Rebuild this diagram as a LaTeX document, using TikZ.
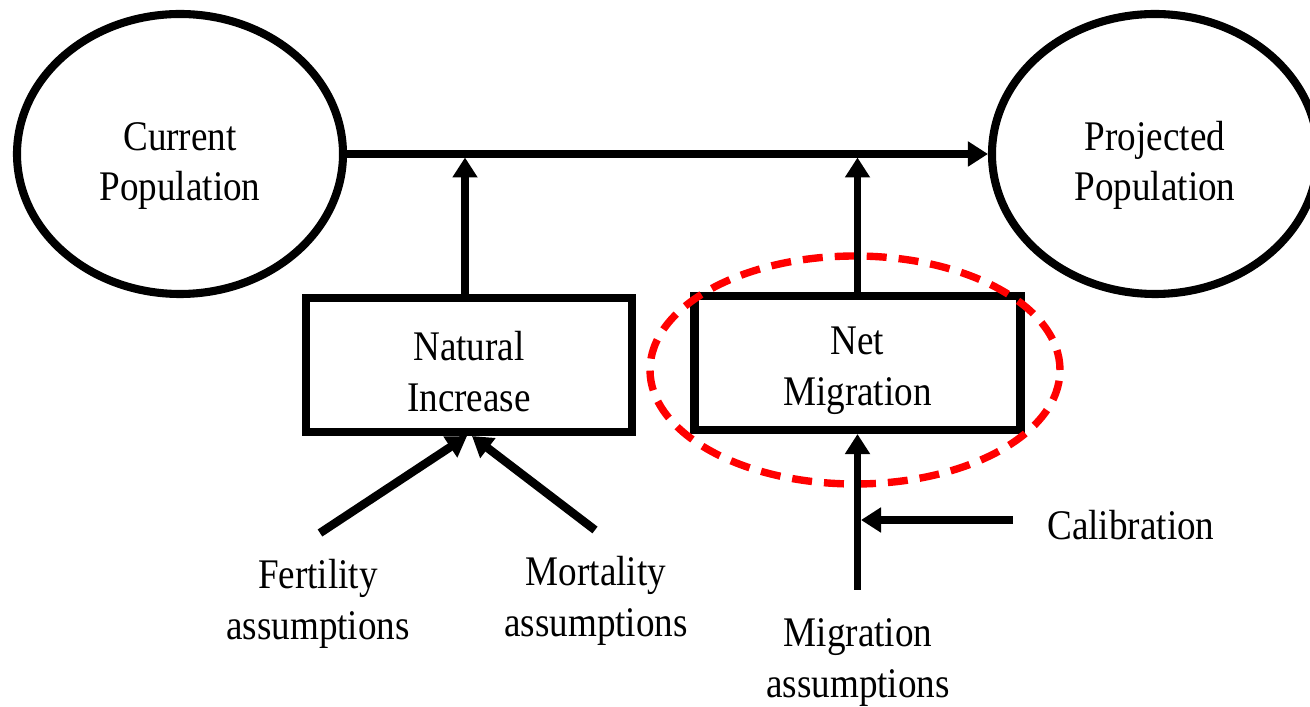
\documentclass[tikz,border=0pt]{standalone}
\usepackage{fontspec}
\setmainfont{Liberation Serif}[FakeStretch=0.88]
\usepackage{tikz}
\usetikzlibrary{arrows.meta,shapes.geometric}

\tikzset{
  popu/.style={ellipse, draw, line width=2.3pt, minimum width=3.26cm, minimum height=2.80cm, inner sep=0pt, align=center, text height=29.3pt},
  compo/.style={rectangle, draw, line width=2.3pt, minimum width=3.26cm, minimum height=1.34cm, inner sep=0pt, align=center, text height=26.7pt},
  lbl/.style={align=center},
  flow/.style={-{Triangle[length=0.2cm,width=0.24cm]}, line width=2pt},
  redring/.style={ellipse, draw=red, line width=2.1pt, dash pattern=on 0.2cm off 0.12cm, minimum width=4.10cm, minimum height=2.28cm}
}

\begin{document}
\begin{tikzpicture}[font=\fontsize{12}{14.5}\selectfont]
  \clip (0,0) rectangle (13.10,7.07);
  \node[popu] (cur) at (1.80,5.53) {Current\\Population};
  \node[popu] (proj) at (11.55,5.53) {Projected\\Population};
  \node[compo] (ni) at (4.69,3.42) {Natural\\Increase};
  \node[compo] (nm) at (8.575,3.44) {Net\\Migration};
  \node[redring] (focus) at (8.55,3.37) {};
  \node[lbl] (fert) at (3.18,1.03) {Fertility\\assumptions};
  \node[lbl] (mort) at (5.96,1.06) {Mortality\\assumptions};
  \node[lbl] (migas) at (8.58,0.44) {Migration\\assumptions};
  \node[lbl, anchor=west] (calib) at (10.35,1.82) {Calibration};
  % free ends of the input arrows
  \coordinate (niup) at ([xshift=-0.04cm]ni.north);
  \coordinate (ftail) at (3.20,1.74);
  \coordinate (mtail) at (5.95,1.77);
  \coordinate (gtail) at (8.575,1.17);
  \coordinate (ctail) at (10.13,1.87);
  \draw[flow] (cur) -- (proj);
  \draw[flow, shorten >=0.035cm] (niup) -- (niup |- cur.east);
  \draw[flow, shorten >=0.035cm] (nm.north) -- (nm.north |- cur.east);
  \draw[flow, line width=2.4pt] (ftail) -- ([xshift=-0.02cm]ni.south);
  \draw[flow, line width=2.4pt] (mtail) -- ([xshift=0.03cm]ni.south);
  \draw[flow] (gtail) -- (gtail |- nm.south);
  \draw[flow, shorten >=0.035cm] (ctail) -- (ctail -| gtail);
\end{tikzpicture}
\end{document}
